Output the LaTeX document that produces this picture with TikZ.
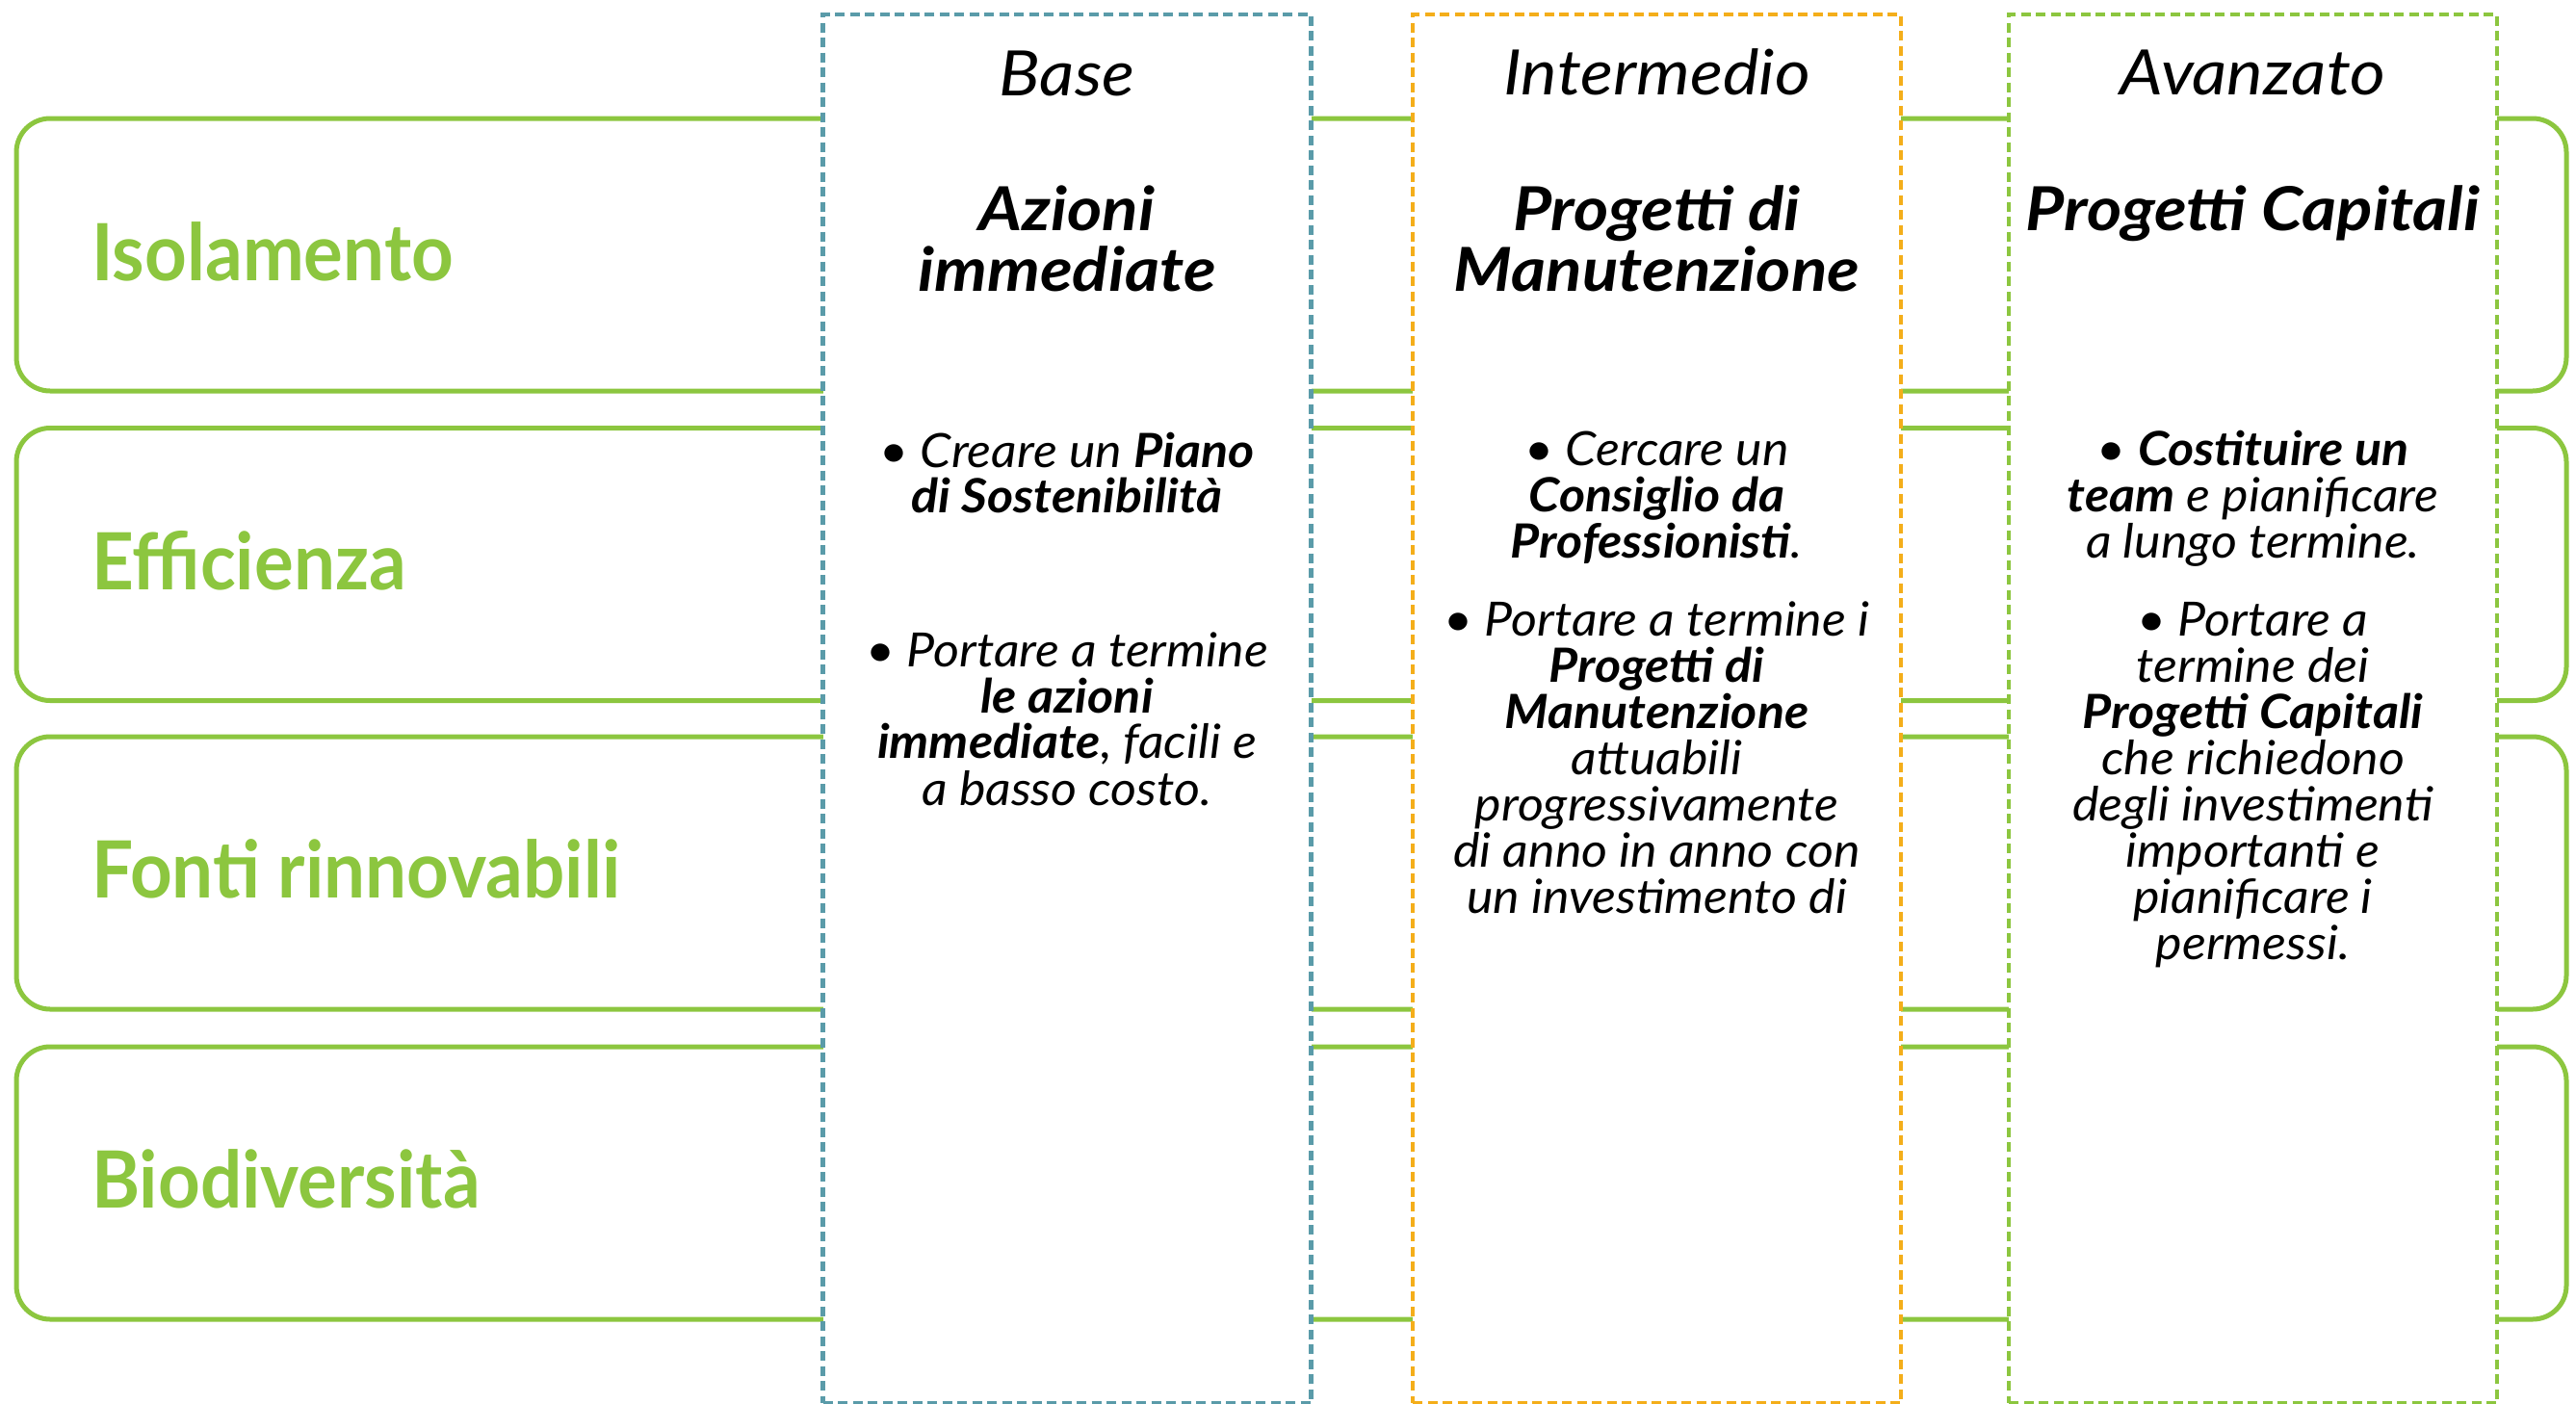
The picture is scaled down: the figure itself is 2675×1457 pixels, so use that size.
\documentclass[tikz,border=0pt]{standalone}
\usepackage{fontspec}
\setmainfont{Lato}
\newfontfamily\bodyfont[FakeStretch=1.06]{Lato}
\newfontfamily\headfont[FakeStretch=1.09]{Lato}
\newfontfamily\titlefont[FakeStretch=1.10]{Lato}
\newfontfamily\labelfont[FakeStretch=0.93]{Lato}
\definecolor{lgreen}{HTML}{8CC63F}
\definecolor{lteal}{HTML}{5A9BA9}
\definecolor{lorange}{HTML}{F4AE1A}
\tikzset{
 rowbox/.style={draw=lgreen, line width=5pt, rounded corners=35pt, minimum width=2648pt, minimum height=283pt, inner sep=0pt, outer sep=0pt},
 colbox/.style={fill=white, line width=4.5pt, dash pattern=on 10pt off 5.5pt, minimum width=507pt, minimum height=1442pt, inner sep=0pt, outer sep=0pt},
 rowlabel/.style={text=lgreen, font=\labelfont\fontsize{82}{82}\selectfont\bfseries, anchor=base west, inner sep=0pt},
 headtxt/.style={font=\headfont\fontsize{65}{65}\selectfont\itshape, anchor=base, inner sep=0pt},
 titletxt/.style={font=\titlefont\fontsize{63}{63}\selectfont\bfseries\itshape, anchor=base, inner sep=0pt},
 bodytxt/.style={font=\bodyfont\fontsize{49}{49}\selectfont\itshape, anchor=base, inner sep=0pt},
}
\begin{document}
\begin{tikzpicture}[x=1pt, y=-1pt]
\useasboundingbox (0,0) rectangle (2675,1457);
% rows
\node[rowbox] (r1) at (1341,264.5) {};
\node[rowbox] (r2) at (1341,586) {};
\node[rowbox] (r3) at (1341,906.5) {};
\node[rowbox] (r4) at (1341,1228.5) {};
% labels
\node[rowlabel] (l1) at (95,291) {Isolamento};
\node[rowlabel] (l2) at (95,612.5) {Efficienza};
\node[rowlabel] (l3) at (95,932) {Fonti rinnovabili};
\node[rowlabel] (l4) at (95,1254) {Biodiversità};
% columns
\node[colbox, draw=lteal] (cb) at (1108,736) {};
\node[colbox, draw=lorange] (ci) at (1720.5,736) {};
\node[colbox, draw=lgreen] (ca) at (2339.5,736) {};
% Base
\node[headtxt] (hb) at (1108,99) {Base};
\node[titletxt] (tb1) at (1108,239) {Azioni};
\node[titletxt] (tb2) at (1108,302.5) {immediate};
\node[bodytxt] (b1) at (1108,485) {• Creare un \textbf{Piano}};
\node[bodytxt] (b2) at (1108,532) {\textbf{di Sostenibilità}};
\node[bodytxt] (b3) at (1108,692) {• Portare a termine};
\node[bodytxt] (b4) at (1108,740) {\textbf{le azioni}};
\node[bodytxt] (b5) at (1108,787) {\textbf{immediate}, facili e};
\node[bodytxt] (b6) at (1108,836) {a basso costo.};
% Intermedio
\node[headtxt] (hi) at (1720.5,98) {Intermedio};
\node[titletxt] (ti1) at (1720.5,239) {Progetti di};
\node[titletxt] (ti2) at (1720.5,302.5) {Manutenzione};
\node[bodytxt] (i1) at (1720.5,483) {• Cercare un};
\node[bodytxt] (i2) at (1720.5,531) {\textbf{Consiglio da}};
\node[bodytxt] (i3) at (1720.5,579) {\textbf{Professionisti}.};
\node[bodytxt] (i4) at (1720.5,660) {• Portare a termine i};
\node[bodytxt] (i5) at (1720.5,708) {\textbf{Progetti di}};
\node[bodytxt] (i6) at (1720.5,756) {\textbf{Manutenzione}};
\node[bodytxt] (i7) at (1720.5,804) {attuabili};
\node[bodytxt] (i8) at (1720.5,852) {progressivamente};
\node[bodytxt] (i9) at (1720.5,900) {di anno in anno con};
\node[bodytxt] (i10) at (1720.5,948) {un investimento di};
% Avanzato
\node[headtxt] (ha) at (2339.5,98) {Avanzato};
\node[titletxt] (ta1) at (2339.5,239) {Progetti Capitali};
\node[bodytxt] (a1) at (2339.5,483) {• \textbf{Costituire un}};
\node[bodytxt] (a2) at (2339.5,531) {\textbf{team} e pianificare};
\node[bodytxt] (a3) at (2339.5,579) {a lungo termine.};
\node[bodytxt] (a4) at (2339.5,660) {• Portare a};
\node[bodytxt] (a5) at (2339.5,708) {termine dei};
\node[bodytxt] (a6) at (2339.5,756) {\textbf{Progetti Capitali}};
\node[bodytxt] (a7) at (2339.5,804) {che richiedono};
\node[bodytxt] (a8) at (2339.5,852) {degli investimenti};
\node[bodytxt] (a9) at (2339.5,900) {importanti e};
\node[bodytxt] (a10) at (2339.5,948) {pianificare i};
\node[bodytxt] (a11) at (2339.5,996) {permessi.};
\end{tikzpicture}
\end{document}
